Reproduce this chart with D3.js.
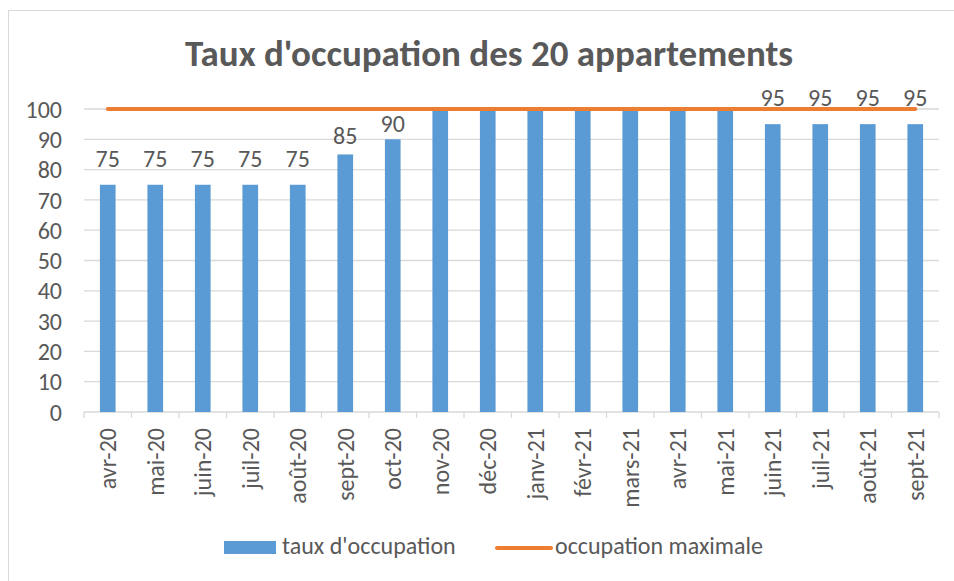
<!DOCTYPE html>
<html>
<head>
<meta charset="utf-8">
<title>Taux d'occupation</title>
<script src="https://d3js.org/d3.v7.min.js"></script>
<style>
body { margin: 0; padding: 0; background: #fff; }
text { font-family: Carlito, "Liberation Sans Narrow", "Open Sans", sans-serif; fill: #595959; }
</style>
</head>
<body>
<svg id="chart" width="954" height="581"></svg>
<script>
// data
var months = ['avr-20','mai-20','juin-20','juil-20','août-20','sept-20','oct-20','nov-20','déc-20',
              'janv-21','févr-21','mars-21','avr-21','mai-21','juin-21','juil-21','août-21','sept-21'];
var taux = [75,75,75,75,75,85,90,100,100,100,100,100,100,100,95,95,95,95];
var maxi = [100,100,100,100,100,100,100,100,100,100,100,100,100,100,100,100,100,100];
var yTicks = [0,10,20,30,40,50,60,70,80,90,100];

var margin = {top:109, left:84, right:15, bottom:169},
    width = 954 - margin.left - margin.right,
    height = 581 - margin.top - margin.bottom;

var svg = d3.select("#chart");

// frame
svg.append("rect")
  .attr("x", 8.5).attr("y", 10.5)
  .attr("width", 954).attr("height", 580)
  .attr("fill", "none").attr("stroke", "#d9d9d9");

svg.append("text")
  .attr("x", 489).attr("y", 66)
  .attr("text-anchor", "middle")
  .style("font-size", "37px").style("font-weight", "bold")
  .text("Taux d'occupation des 20 appartements");

var g = svg.append("g").attr("transform", "translate(" + margin.left + "," + margin.top + ")");

var x = d3.scaleBand().domain(months).range([0, width]).paddingInner(0.67).paddingOuter(0.335);
var xb = d3.scaleBand().domain(months).range([0, width]);
var y = d3.scaleLinear().domain([0, 100]).range([height, 0]);

// gridlines
g.append("g")
  .selectAll("line").data(yTicks.slice(1)).enter().append("line")
  .attr("x1", 0).attr("x2", width)
  .attr("y1", function(d){ return y(d); }).attr("y2", function(d){ return y(d); })
  .attr("stroke", "#d9d9d9").attr("stroke-width", 1.3);

// y axis
var gy = g.append("g")
  .call(d3.axisLeft(y).tickValues(yTicks).tickSize(0).tickPadding(22));
gy.select(".domain").remove();
gy.selectAll("text").style("font-size", "24px").attr("fill", "#595959").attr("dy", "0.34em");

// x axis
var gx = g.append("g").attr("transform", "translate(0," + height + ")");
gx.append("line").attr("x1", 0).attr("x2", width).attr("stroke", "#d9d9d9").attr("stroke-width", 1.3);
gx.selectAll(".tk").data(d3.range(months.length + 1)).enter().append("line")
  .attr("x1", function(i){ return i * xb.step(); })
  .attr("x2", function(i){ return i * xb.step(); })
  .attr("y1", 0).attr("y2", 6)
  .attr("stroke", "#d9d9d9").attr("stroke-width", 1.3);
gx.selectAll(".lab").data(months).enter().append("text")
  .attr("transform", function(d){ return "translate(" + (xb(d) + xb.bandwidth()/2 + 8.5) + ",16) rotate(-90)"; })
  .attr("text-anchor", "end")
  .style("font-size", "24px")
  .text(function(d){ return d; });

// bars
g.selectAll(".bar").data(months).enter().append("rect")
  .attr("class", "bar")
  .attr("x", function(d){ return x(d); })
  .attr("y", function(d, i){ return y(taux[i]); })
  .attr("width", x.bandwidth())
  .attr("height", function(d, i){ return height - y(taux[i]); })
  .attr("fill", "#5b9bd5");

// line
var line = d3.line()
  .x(function(d, i){ return xb(months[i]) + xb.bandwidth()/2; })
  .y(function(d){ return y(d); });
g.append("path").datum(maxi)
  .attr("d", line)
  .attr("fill", "none").attr("stroke", "#ed7d31")
  .attr("stroke-width", 4).attr("stroke-linecap", "round");

// data labels (the 85 and 90 labels sit a bit closer to their bars)
var nudge = {'sept-20': 10, 'oct-20': 7};
g.selectAll(".val").data(months).enter()
  .filter(function(d, i){ return taux[i] < 100; })
  .append("text")
  .attr("x", function(d){ return xb(d) + xb.bandwidth()/2; })
  .attr("y", function(d){ return y(taux[months.indexOf(d)]) - (nudge[d] || 18); })
  .attr("text-anchor", "middle")
  .style("font-size", "24px")
  .text(function(d){ return taux[months.indexOf(d)]; });

// legend
var lg = svg.append("g");
lg.append("rect").attr("x", 224).attr("y", 541).attr("width", 52).attr("height", 13).attr("fill", "#5b9bd5");
lg.append("text").attr("x", 282).attr("y", 554).style("font-size", "24px").text("taux d'occupation");
lg.append("line").attr("x1", 497).attr("x2", 551).attr("y1", 548).attr("y2", 548)
  .attr("stroke", "#ed7d31").attr("stroke-width", 4).attr("stroke-linecap", "round");
lg.append("text").attr("x", 555).attr("y", 554).style("font-size", "24px").text("occupation maximale");
</script>
</body>
</html>
